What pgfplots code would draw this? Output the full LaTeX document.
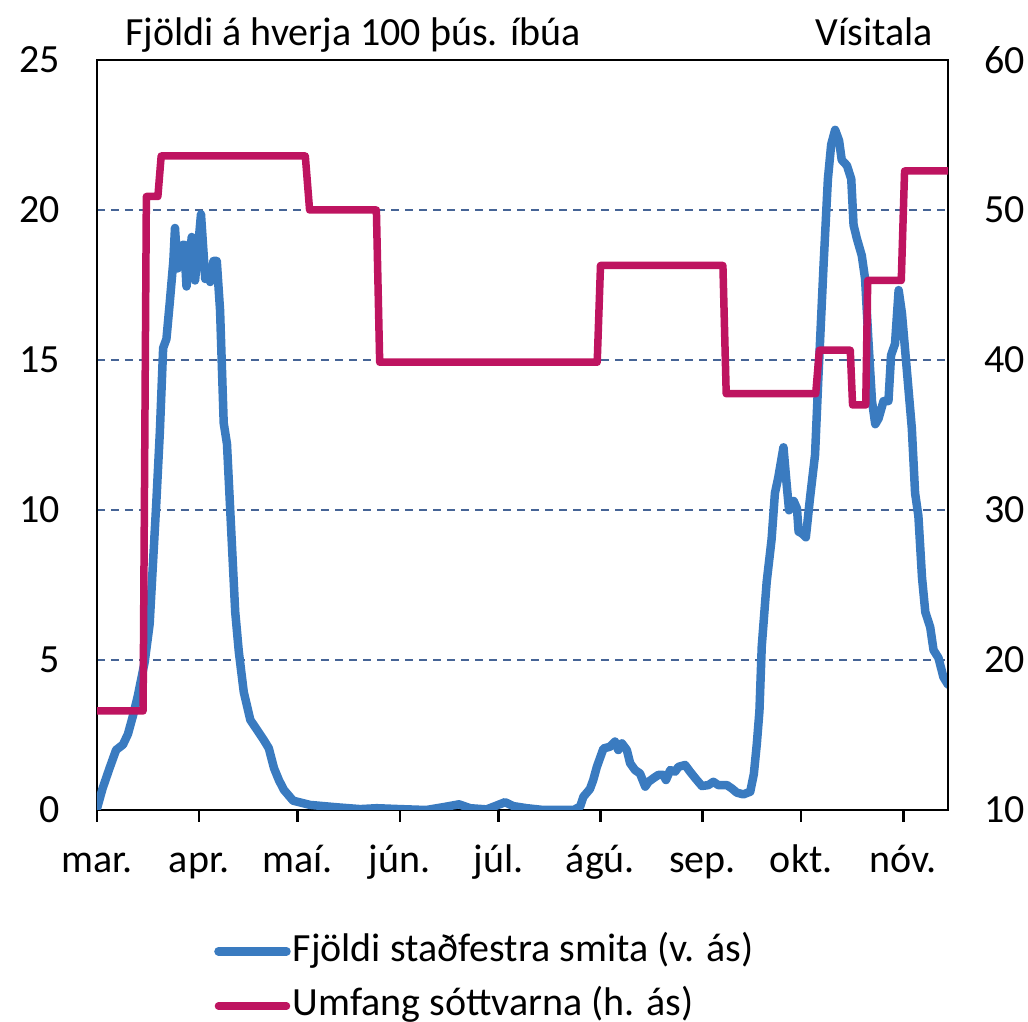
\documentclass[border=0pt]{standalone}
\usepackage{fontspec}
\setmainfont{Carlito}
\usepackage{pgfplots}
\pgfplotsset{compat=1.18}
\definecolor{cblue}{RGB}{58,123,192}
\definecolor{cmag}{RGB}{190,20,96}
\definecolor{cgrid}{RGB}{70,100,150}
\newcommand{\bigfont}{\fontsize{40}{48}\selectfont}

\pgfplotstableread{
day val
0 0.05
1.7 0.72
3.8 1.39
5.8 2.0
7.9 2.18
9.4 2.53
10.9 3.13
12.4 3.8
14.5 4.94
16 6.2
17 8.2
18 10.2
19.1 12.6
20.1 15.4
21.1 15.7
22.1 16.9
23.2 18.3
23.7 19.4
24.5 18.05
25.5 18.8
26.5 18.85
27.2 17.45
28.8 19.1
29.8 17.65
30.8 18.85
31.6 19.86
32.9 17.7
33.9 18.0
34.4 17.6
35.4 18.3
36.4 18.3
37.4 16.65
38.5 12.9
39.5 12.2
40.5 9.96
42 6.6
43.1 5.27
44.6 3.93
46.6 3.0
48.7 2.66
50.7 2.33
52.2 2.06
53.8 1.39
55.3 0.99
56.8 0.67
59.6 0.31
64.7 0.17
72.9 0.09
80 0.03
85 0.06
92 0.03
100 0
105 0.09
110 0.19
113.4 0.06
118.4 0.02
124 0.26
126.5 0.13
130.6 0.06
135.7 0
144.8 0
146.8 0.11
147.8 0.44
149.8 0.7
150.8 1.0
151.9 1.44
153.9 2.05
155.9 2.11
157.4 2.28
158.4 2.0
159.5 2.22
161 2.0
162 1.56
163.5 1.33
165 1.22
166.6 0.78
167.6 0.94
169.1 1.06
170.6 1.17
172.1 1.17
172.9 1.0
174.2 1.33
175.7 1.28
176.7 1.44
178.7 1.5
180.2 1.28
181.8 1.06
183.8 0.8
185.8 0.83
187.3 0.94
188.8 0.83
191.4 0.83
192.9 0.72
194.4 0.58
196.4 0.52
198.5 0.61
199.6 1.2
200.5 2.2
201.3 3.3
202 5.45
203.5 7.6
205 9.03
206 10.56
207 11.07
208.6 12.09
209.6 10.82
210.3 9.99
211.7 10.3
212.7 10.05
213.2 9.28
214.2 9.22
215.4 9.09
216.7 10.43
218.2 11.84
219.2 14.39
220.8 18.2
222.1 21.03
223.1 22.18
224.3 22.67
225.5 22.31
226.3 21.67
227.9 21.48
229.2 21.03
229.9 19.5
230.9 19.05
232.4 18.48
233.4 17.71
234.4 15.67
235.5 13.63
236.5 12.86
237.5 13.05
239 13.63
240.5 13.63
241.3 15.16
242.5 15.54
243.6 17.33
244.6 16.56
246.1 14.65
247.6 12.73
248.6 10.56
249.6 9.8
250.7 7.75
251.7 6.6
253.2 6.09
254.2 5.33
255.7 5.07
257.2 4.43
258.6 4.18
}\smit

\pgfplotstableread{
day val
0 16.6
14 16.6
15 50.9
18.5 50.9
19.5 53.6
63.3 53.6
64.6 50
84.9 50
85.9 39.85
152 39.85
153 46.3
190.2 46.3
191.2 37.75
218.4 37.75
219.5 40.65
228.9 40.65
229.6 37.0
233.6 37.0
234.2 45.3
244.4 45.3
245.4 52.6
258.6 52.6
}\sott

\begin{document}
\begin{tikzpicture}
\useasboundingbox (-97pt,-212pt) rectangle (931pt,810pt);
\begin{axis}[
  scale only axis, width=851pt, height=750pt,
  xmin=0, xmax=258.6, ymin=0, ymax=25,
  xtick={0,31,61,92,122,153,184,214,245},
  xticklabels={mar.,apr.,maí.,jún.,júl.,ágú.,sep.,okt.,nóv.},
  ytick={0,5,...,25},
  xtick pos=left, ytick pos=left,
  tick align=outside, major tick length=12pt,
  xtick style={line width=2.5pt, black},
  ytick style={draw=none},
  axis line style={line width=2.5pt, black},
  ymajorgrids, grid style={cgrid, line width=1.3pt, dash pattern=on 8pt off 6pt},
  /pgf/number format/assume math mode=true,
  ticklabel style={font=\bigfont},
  yticklabel style={anchor=east, inner sep=0pt, xshift=-25pt},
  xticklabel style={anchor=base, inner sep=0pt, yshift=-51pt},
  clip mode=individual,
]
\addplot[cblue, line width=8.5pt, line join=round, line cap=round] table[x=day,y=val] {\smit};
\node[anchor=base west, font=\bigfont, inner sep=0pt, xshift=28pt, yshift=14pt] at (rel axis cs:0,1) {Fjöldi á hverja 100 þús. íbúa};
\node[anchor=base east, font=\bigfont, inner sep=0pt, xshift=-15pt, yshift=14pt] at (rel axis cs:1,1) {Vísitala};
\end{axis}
\begin{axis}[
  scale only axis, width=851pt, height=750pt,
  xmin=0, xmax=258.6, ymin=10, ymax=60,
  axis x line=none, axis y line*=right,
  ytick={10,20,...,60},
  ytick style={draw=none},
  axis line style={line width=2.5pt, black},
  /pgf/number format/assume math mode=true,
  ticklabel style={font=\bigfont},
  yticklabel style={anchor=west, inner sep=0pt, xshift=36pt},
  legend style={draw=none, fill=none, at={(0.134,-0.157)}, anchor=north west, font=\bigfont, row sep=20pt, nodes={inner xsep=2pt}},
  legend cell align=left,
  legend image code/.code={\draw[#1, line cap=round] (0pt,-4pt) -- (68pt,-4pt);},
]
\addlegendimage{cblue, line width=8.5pt}
\addlegendentry{Fjöldi staðfestra smita (v. ás)}
\addplot[cmag, line width=7.5pt, line join=round] table[x=day,y=val] {\sott};
\addlegendentry{Umfang sóttvarna (h. ás)}
\end{axis}
\end{tikzpicture}
\end{document}
